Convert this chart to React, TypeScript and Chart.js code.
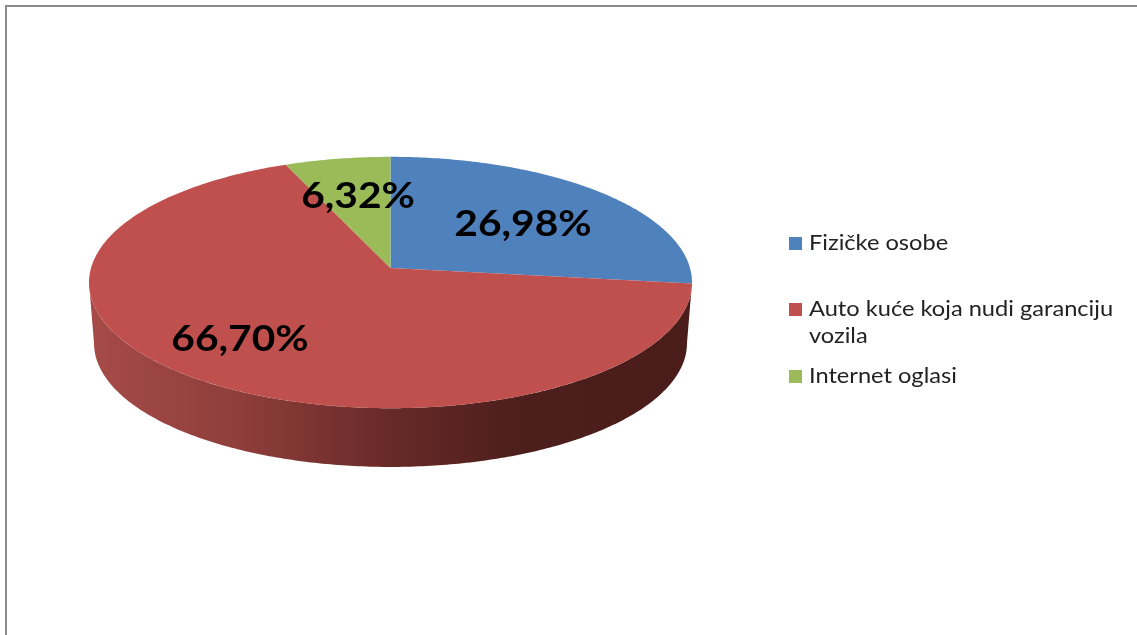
import React, { useEffect, useRef } from "react";
import { Chart, registerables } from "chart.js";

Chart.register(...registerables);

const categories: (string | string[])[] = [
  "Fizičke osobe",
  ["Auto kuće koja nudi garanciju", "vozila"],
  "Internet oglasi",
];
const shares = [26.98, 66.7, 6.32];
const sliceColors = ["#4f81bd", "#c0504d", "#9bbb59"];
const legendRowY = [243, 309, 376];
const labelAnchors: [number, number][] = [
  [523, 224],
  [240, 339],
  [358, 196],
];

const W = 1137;
const H = 635;
const APEX_X = 390.5;
const APEX_Y = 268;
const K = -0.1155;

function rim(angle: number, rx: number, ry: number, dy: number): [number, number] {
  const u = Math.cos(angle);
  const v = Math.sin(angle);
  const w = 1 + K * v;
  return [APEX_X + (rx * u) / w, APEX_Y + dy + (ry * v) / w];
}

function stretched(ctx: CanvasRenderingContext2D, text: string, x: number, y: number, sx: number) {
  ctx.save();
  ctx.translate(x, y);
  ctx.scale(sx, 1);
  ctx.fillText(text, 0, 0);
  ctx.restore();
}

const pie3d = {
  id: "pie3d",
  beforeDatasetDraw(chart: any) {
    const ctx: CanvasRenderingContext2D = chart.ctx;
    const meta = chart.getDatasetMeta(0);
    ctx.save();

    // visible wall of the disc, between the widest points of the two rims
    const grad = ctx.createLinearGradient(88, 0, 693, 0);
    grad.addColorStop(0, "#a64b48");
    grad.addColorStop(0.25, "#8e3e3b");
    grad.addColorStop(0.5, "#682a28");
    grad.addColorStop(0.72, "#4c1e1c");
    grad.addColorStop(1, "#4a1d1b");
    ctx.beginPath();
    const n = 240;
    const from = Math.asin(-K);
    const to = Math.PI - from;
    for (let i = 0; i <= n; i++) {
      const p = rim(from + ((to - from) * i) / n, 299.5, 124, 0);
      if (i === 0) ctx.moveTo(p[0], p[1]);
      else ctx.lineTo(p[0], p[1]);
    }
    for (let i = n; i >= 0; i--) {
      const p = rim(from + ((to - from) * i) / n, 294.5, 122, 61);
      ctx.lineTo(p[0], p[1]);
    }
    ctx.closePath();
    ctx.fillStyle = grad;
    ctx.fill();

    // top face, from the arc elements laid out by the chart
    meta.data.forEach((arc: any, idx: number) => {
      const { startAngle, endAngle } = arc.getProps(["startAngle", "endAngle"], true);
      ctx.beginPath();
      ctx.moveTo(APEX_X, APEX_Y);
      const steps = Math.max(8, Math.ceil((endAngle - startAngle) * 80));
      for (let i = 0; i <= steps; i++) {
        const p = rim(startAngle + ((endAngle - startAngle) * i) / steps, 299.5, 124, 0);
        ctx.lineTo(p[0], p[1]);
      }
      ctx.closePath();
      ctx.fillStyle = sliceColors[idx];
      ctx.fill();
    });
    ctx.restore();
    return false;
  },
  afterDraw(chart: any) {
    const ctx: CanvasRenderingContext2D = chart.ctx;
    ctx.save();

    // frame
    ctx.fillStyle = "#8a8a8a";
    ctx.fillRect(5, 5, W - 5, 2);
    ctx.fillRect(5, 5, 2, H - 5);

    (ctx as any).filter = "blur(0.5px)";

    // value labels
    ctx.fillStyle = "#000000";
    ctx.font = 'bold 37px Lato, "Open Sans", sans-serif';
    ctx.textAlign = "center";
    ctx.textBaseline = "middle";
    shares.forEach((v, i) => {
      stretched(ctx, v.toFixed(2).replace(".", ",") + "%", labelAnchors[i][0], labelAnchors[i][1], 1.1);
    });

    // legend
    ctx.font = '21px Lato, "Open Sans", sans-serif';
    ctx.textAlign = "left";
    categories.forEach((c, i) => {
      const y = legendRowY[i];
      ctx.fillStyle = sliceColors[i];
      ctx.fillRect(789, y - 6, 13, 13);
      ctx.fillStyle = "#222222";
      const lines = Array.isArray(c) ? c : [c];
      lines.forEach((line, j) => stretched(ctx, line, 809, y + j * 27, 1.125));
    });
    ctx.restore();
  },
};

export default function App() {
  const ref = useRef<HTMLCanvasElement>(null);
  useEffect(() => {
    document.body.style.margin = "0";
    document.body.style.background = "#ffffff";
    const chart = new Chart(ref.current!, {
      type: "pie",
      data: {
        labels: categories as any,
        datasets: [{ data: shares, backgroundColor: sliceColors, borderWidth: 0 }],
      },
      options: {
        animation: false,
        responsive: false,
        layout: { padding: 0 },
        plugins: { legend: { display: false }, tooltip: { enabled: false }, title: { display: false } },
      },
      plugins: [pie3d as any],
    });
    return () => chart.destroy();
  }, []);
  return <canvas ref={ref} width={W} height={H} style={{ display: "block", width: W, height: H }} />;
}
